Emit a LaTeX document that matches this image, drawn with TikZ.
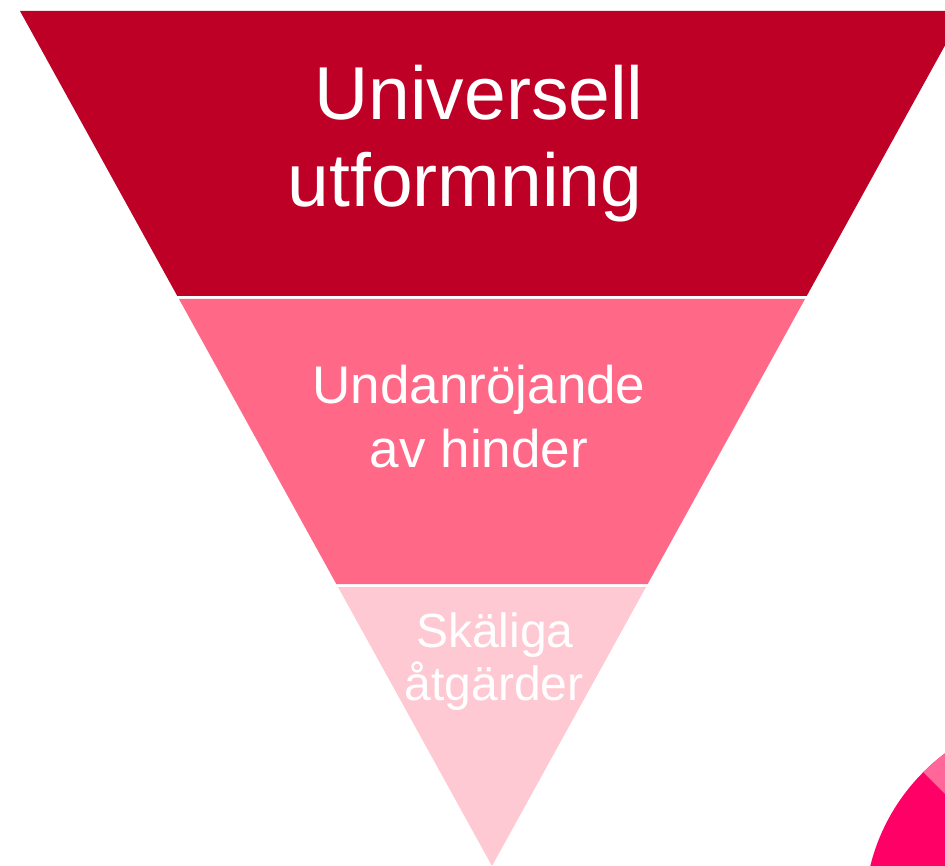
\documentclass[tikz,border=0pt]{standalone}
\usepackage{fontspec}
\setmainfont{Liberation Sans}
\definecolor{darkred}{HTML}{BE0027}
\definecolor{midpink}{HTML}{FF6987}
\definecolor{lightpink}{HTML}{FFC9D3}
\definecolor{magenta1}{HTML}{FF0066}
\definecolor{magenta2}{HTML}{FF6699}
\begin{document}
\begin{tikzpicture}[x=1pt,y=-1pt,
  lbl/.style={text=white,anchor=base,inner sep=0pt},
  big/.style={lbl,font=\fontsize{75}{90}\selectfont},
  med/.style={lbl,font=\fontsize{53}{64}\selectfont},
  sml/.style={lbl,font=\fontsize{48}{56}\selectfont}]
\useasboundingbox (0,0) rectangle (945,866);
\clip (0,0) rectangle (945,866);
% bands of the inverted triangle
\fill[darkred] (20,11) -- (964,11) -- (806.7,296) -- (177.3,296) -- cycle;
\fill[midpink] (179,299) -- (805,299) -- (647.7,584) -- (336.3,584) -- cycle;
\fill[lightpink] (338,587) -- (646,587) -- (492,866) -- cycle;
% partial pie in the corner
\fill[magenta1] (1065,914) circle (200.5);
\fill[magenta2] (1065,914) -- ++(225:200.5) arc[start angle=225,end angle=300,radius=200.5] -- cycle;
% labels
\node[big] (u1) at (479,120) {Universell};
\node[big] (u2) at (465,207) {utformning};
\node[med] (m1) at (479,403) {Undanröjande};
\node[med] (m2) at (479,467) {av hinder};
\node[sml] (s1) at (495,647) {Skäliga};
\node[sml] (s2) at (494,700) {åtgärder};
\end{tikzpicture}
\end{document}
